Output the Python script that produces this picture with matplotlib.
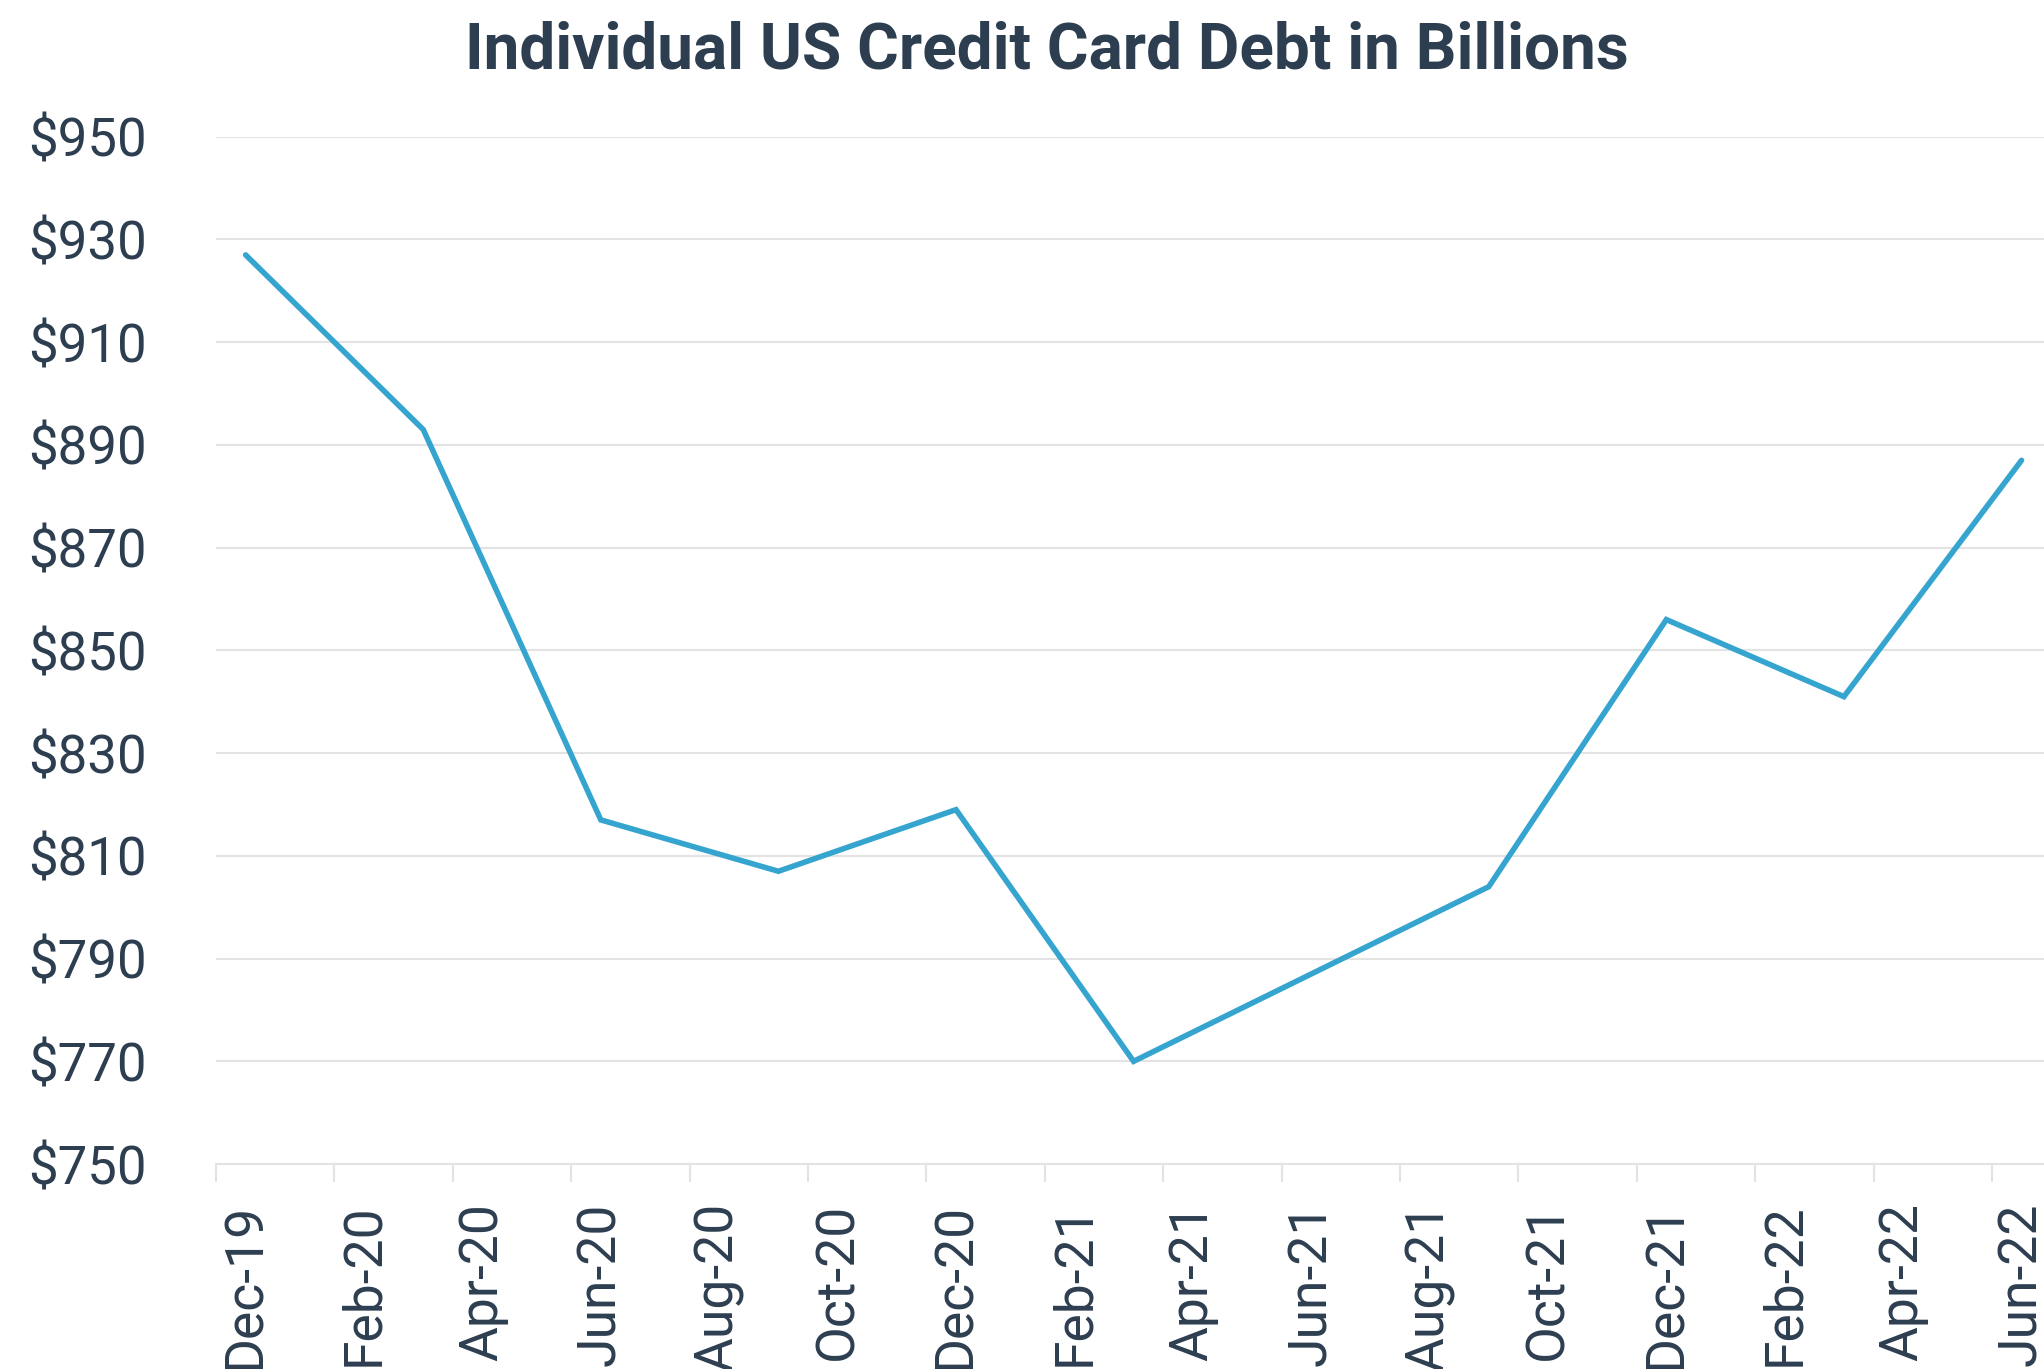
import matplotlib
matplotlib.use('Agg')
import matplotlib.pyplot as plt
import pandas as pd

# quarterly credit card balances (billions USD)
quarters = ['Dec-19', 'Mar-20', 'Jun-20', 'Sep-20', 'Dec-20', 'Mar-21',
            'Jun-21', 'Sep-21', 'Dec-21', 'Mar-22', 'Jun-22']
debt = [927, 893, 817, 807, 819, 770, 787, 804, 856, 841, 887]

y_ticks = [750, 770, 790, 810, 830, 850, 870, 890, 910, 930, 950]
title = 'Individual US Credit Card Debt in Billions'

TEXT = '#2d3e50'
LINE = '#35a5d0'
GRID = '#e3e3e3'

plt.rcParams['font.family'] = ['Roboto', 'DejaVu Sans']

# month index relative to the first quarter
start = pd.Period('2019-12', freq='M')
periods = [pd.Period(pd.to_datetime(q, format='%b-%y'), freq='M') for q in quarters]
x = [(p - start).n for p in periods]

label_periods = pd.period_range(start, periods[-1], freq='M')[::2]
label_pos = [(p - start).n for p in label_periods]
label_txt = [p.strftime('%b-%y') for p in label_periods]

fig = plt.figure(figsize=(20.44, 13.69), dpi=100)
ax = fig.add_axes([0.1057, 0.1497, 0.8943, 0.7504])

ax.plot(x, debt, color=LINE, lw=4, solid_capstyle='round', solid_joinstyle='miter', zorder=3)

ax.set_xlim(-0.5, 30.38)
ax.set_ylim(750, 950)
ax.set_yticks(y_ticks)
ax.set_yticklabels(['$%d' % v for v in y_ticks])
ax.tick_params(axis='y', length=0, pad=50, labelsize=38, labelcolor=TEXT)
ax.yaxis.grid(True, color=GRID, lw=1.5)
ax.set_axisbelow(True)

# boundary tick marks between months, labels centred on the month
ax.set_xticks([p - 0.5 for p in label_pos])
ax.set_xticklabels([])
ax.tick_params(axis='x', which='major', length=13, width=1.5, color=GRID)
ax.set_xticks(label_pos, minor=True)
ax.set_xticklabels(label_txt, minor=True, rotation=90)
ax.tick_params(axis='x', which='minor', length=0, pad=28, labelsize=38.5, labelcolor=TEXT)

for s in ['top', 'left', 'right']:
    ax.spines[s].set_visible(False)
ax.spines['bottom'].set_color(GRID)
ax.spines['bottom'].set_linewidth(1.5)

fig.text(0.512, 0.950, title, ha='center', va='baseline', fontsize=46,
         fontweight='bold', color=TEXT)

fig.savefig('out.png', dpi=100)
